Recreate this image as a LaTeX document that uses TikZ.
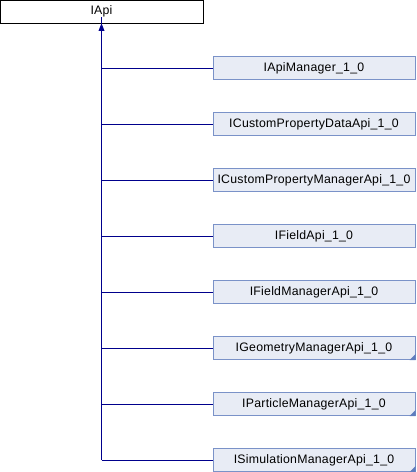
\documentclass[tikz,border=0pt]{standalone}
\usepackage{fontspec}
\setmainfont{Liberation Sans}[LetterSpace=2]
\definecolor{edgeblue}{RGB}{0,0,140}
\definecolor{boxfill}{RGB}{232,236,245}
\definecolor{boxline}{RGB}{122,146,200}
\definecolor{foldcol}{RGB}{95,125,190}
\tikzset{
  base/.style={draw=black, fill=white, line width=1pt, minimum width=203pt, minimum height=23pt, inner sep=0pt, font=\fontsize{12.3}{14}\selectfont},
  derived/.style={draw=boxline, fill=boxfill, line width=1pt, minimum width=202pt, minimum height=23pt, inner sep=0pt, font=\fontsize{12.3}{14}\selectfont},
  edge/.style={draw=edgeblue, line width=1pt},
  fold/.style={fill=foldcol}
}
\begin{document}
\begin{tikzpicture}[x=1pt, y=-1pt]
  \useasboundingbox (0,0) rectangle (416,472);
  % root class
  \node[base] (root) at (101.5,11.8) {IApi};
  % derived classes
  \foreach \name [count=\i from 0] in {IApiManager\_1\_0, ICustomPropertyDataApi\_1\_0, ICustomPropertyManagerApi\_1\_0, IFieldApi\_1\_0, IFieldManagerApi\_1\_0, IGeometryManagerApi\_1\_0, IParticleManagerApi\_1\_0, ISimulationManagerApi\_1\_0} {
    \node[derived] (d\i) at (314, 68+56*\i) {\name};
  }
  % folded-corner marks on some classes
  \foreach \i in {5,6,7} {
    \fill[fold] ([shift={(-6,0)}]d\i.south east) -- (d\i.south east) -- ([shift={(0,-6)}]d\i.south east) -- cycle;
  }
  % inheritance trunk
  \coordinate (trunk) at (root.south |- d7.west);
  \draw[edge] (trunk) -- ([yshift=6.5]root.south);
  \fill[edgeblue] ([yshift=0.5]root.south) -- ([shift={(-3,7)}]root.south) -- ([shift={(3,7)}]root.south) -- cycle;
  % branches
  \foreach \i in {0,...,7} {
    \draw[edge] (root.south |- d\i.west) -- (d\i.west);
  }
\end{tikzpicture}
\end{document}
